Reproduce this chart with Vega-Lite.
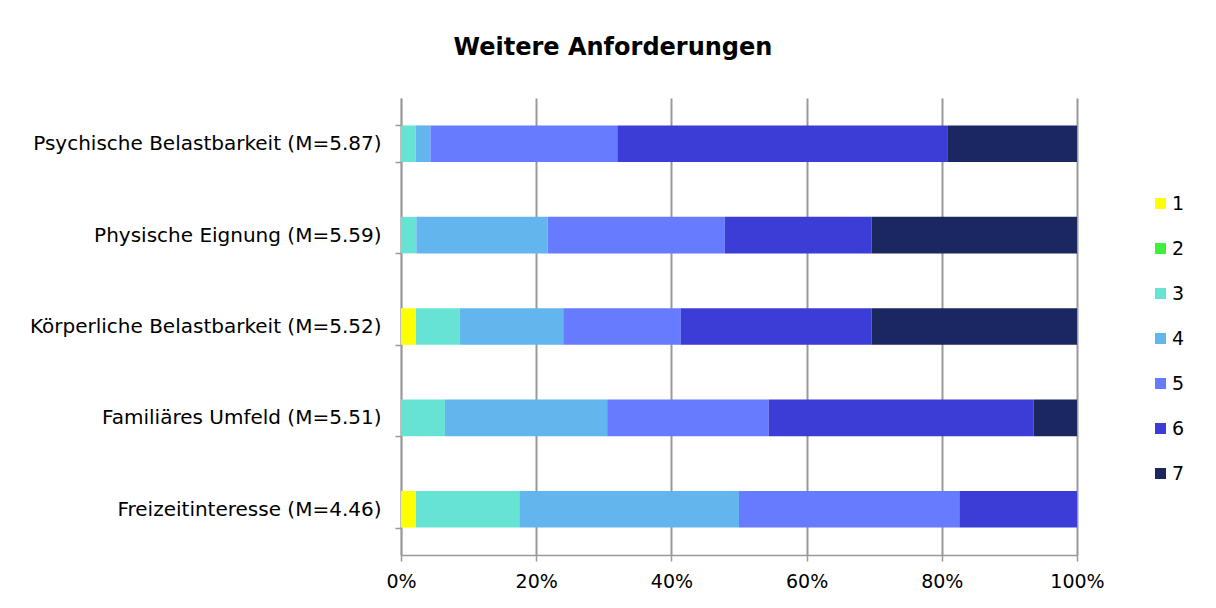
{
  "$schema": "https://vega.github.io/schema/vega-lite/v6.json",
  "width": 676,
  "height": 457,
  "autosize": {"type": "none"},
  "padding": {"left": 401, "top": 98, "right": 139, "bottom": 53},
  "background": "white",
  "title": {
    "text": "Weitere Anforderungen",
    "font": "DejaVu Sans",
    "fontSize": 24,
    "fontWeight": "bold",
    "color": "#000000",
    "anchor": "middle",
    "dx": -126,
    "offset": 28
  },
  "data": {
    "values": [
      {"item": "Psychische Belastbarkeit (M=5.87)", "rating": "3", "pct": 2.17},
      {"item": "Psychische Belastbarkeit (M=5.87)", "rating": "4", "pct": 2.18},
      {"item": "Psychische Belastbarkeit (M=5.87)", "rating": "5", "pct": 27.65},
      {"item": "Psychische Belastbarkeit (M=5.87)", "rating": "6", "pct": 48.9},
      {"item": "Psychische Belastbarkeit (M=5.87)", "rating": "7", "pct": 19.1},
      {"item": "Physische Eignung (M=5.59)", "rating": "3", "pct": 2.27},
      {"item": "Physische Eignung (M=5.59)", "rating": "4", "pct": 19.43},
      {"item": "Physische Eignung (M=5.59)", "rating": "5", "pct": 26.2},
      {"item": "Physische Eignung (M=5.59)", "rating": "6", "pct": 21.7},
      {"item": "Physische Eignung (M=5.59)", "rating": "7", "pct": 30.4},
      {"item": "Körperliche Belastbarkeit (M=5.52)", "rating": "1", "pct": 2.2},
      {"item": "Körperliche Belastbarkeit (M=5.52)", "rating": "3", "pct": 6.5},
      {"item": "Körperliche Belastbarkeit (M=5.52)", "rating": "4", "pct": 15.3},
      {"item": "Körperliche Belastbarkeit (M=5.52)", "rating": "5", "pct": 17.4},
      {"item": "Körperliche Belastbarkeit (M=5.52)", "rating": "6", "pct": 28.2},
      {"item": "Körperliche Belastbarkeit (M=5.52)", "rating": "7", "pct": 30.4},
      {"item": "Familiäres Umfeld (M=5.51)", "rating": "3", "pct": 6.5},
      {"item": "Familiäres Umfeld (M=5.51)", "rating": "4", "pct": 24.0},
      {"item": "Familiäres Umfeld (M=5.51)", "rating": "5", "pct": 23.9},
      {"item": "Familiäres Umfeld (M=5.51)", "rating": "6", "pct": 39.2},
      {"item": "Familiäres Umfeld (M=5.51)", "rating": "7", "pct": 6.4},
      {"item": "Freizeitinteresse (M=4.46)", "rating": "1", "pct": 2.2},
      {"item": "Freizeitinteresse (M=4.46)", "rating": "3", "pct": 15.3},
      {"item": "Freizeitinteresse (M=4.46)", "rating": "4", "pct": 32.5},
      {"item": "Freizeitinteresse (M=4.46)", "rating": "5", "pct": 32.6},
      {"item": "Freizeitinteresse (M=4.46)", "rating": "6", "pct": 17.4}
    ]
  },
  "mark": {"type": "bar", "strokeWidth": 0},
  "encoding": {
    "y": {
      "field": "item",
      "type": "nominal",
      "sort": ["Psychische Belastbarkeit (M=5.87)", "Physische Eignung (M=5.59)", "Körperliche Belastbarkeit (M=5.52)", "Familiäres Umfeld (M=5.51)", "Freizeitinteresse (M=4.46)"],
      "scale": {"paddingInner": 0.6, "paddingOuter": 0.3},
      "axis": {
        "title": null,
        "tickBand": "extent",
        "domainColor": "#999999",
        "domainWidth": 1.5,
        "tickColor": "#999999",
        "tickWidth": 1.5,
        "tickSize": 6,
        "labelFont": "DejaVu Sans",
        "labelFontSize": 20,
        "labelColor": "#000000",
        "labelPadding": 14,
        "labelLimit": 0,
        "grid": false
      }
    },
    "x": {
      "field": "pct",
      "type": "quantitative",
      "stack": "normalize",
      "scale": {"domain": [0, 1], "nice": false},
      "axis": {
        "title": null,
        "format": ".0%",
        "values": [0, 0.2, 0.4, 0.6, 0.8, 1],
        "grid": true,
        "gridColor": "#999999",
        "gridWidth": 2,
        "domainColor": "#999999",
        "domainWidth": 1.5,
        "tickColor": "#999999",
        "tickWidth": 1.5,
        "tickSize": 6,
        "labelFont": "DejaVu Sans",
        "labelFontSize": 19,
        "labelColor": "#000000",
        "labelPadding": 11,
        "labelFlush": false
      }
    },
    "order": {"field": "rating", "type": "ordinal"},
    "color": {
      "field": "rating",
      "type": "nominal",
      "scale": {
        "domain": ["1", "2", "3", "4", "5", "6", "7"],
        "range": ["#FFFF00", "#3EF03E", "#66E3D3", "#63B5EE", "#667BFF", "#3C3CD6", "#1A2760"]
      },
      "legend": {
        "title": null,
        "orient": "none",
        "legendX": 750,
        "legendY": 96,
        "symbolType": "square",
        "symbolSize": 121,
        "symbolStrokeWidth": 0,
        "labelFont": "DejaVu Sans",
        "labelFontSize": 19,
        "labelColor": "#000000",
        "rowPadding": 25,
        "labelOffset": 2
      }
    }
  },
  "config": {"view": {"stroke": null}}
}
